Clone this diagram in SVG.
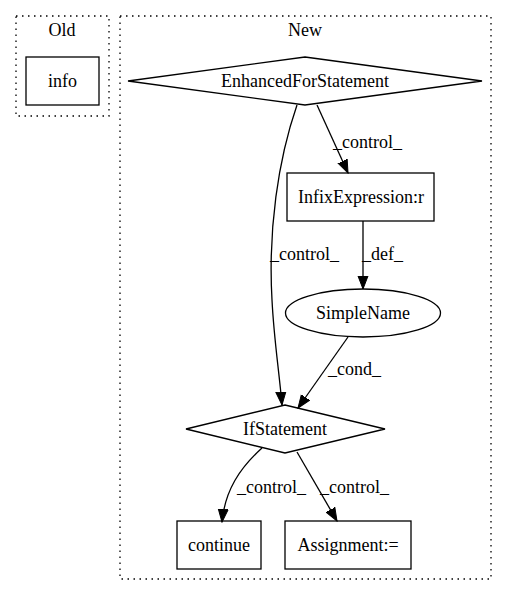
<svg xmlns="http://www.w3.org/2000/svg" width="507" height="596" viewBox="0 0 507 596">
<style>
.t{font-family:'Liberation Serif',serif;font-size:18px;fill:#000}
.n{fill:none;stroke:#000;stroke-width:1.3}
.c{fill:none;stroke:#000;stroke-width:1.3;stroke-dasharray:1.5,4.5}
.e{fill:none;stroke:#000;stroke-width:1.3;marker-end:url(#ah)}
</style>
<defs>
<marker id="ah" markerUnits="userSpaceOnUse" markerWidth="14" markerHeight="12" refX="13" refY="5" orient="auto" viewBox="0 0 14 10">
<path d="M0,0 L13,5 L0,10 Z" fill="#000" stroke="#000" stroke-width="1"/>
</marker>
</defs>
<rect fill="#fff" x="0" y="0" width="507" height="596"/>
<g class="t" font-family="Liberation Serif, serif" font-size="18">
<g id="cluster_old">
<rect class="c" x="16" y="16" width="93" height="100"/>
<text x="62" y="36" text-anchor="middle">Old</text>
</g>
<g id="cluster_new">
<rect class="c" x="120" y="16" width="371" height="563"/>
<text x="305" y="36" text-anchor="middle">New</text>
</g>
<g id="info">
<rect class="n" x="26" y="57" width="73" height="48"/>
<text x="62.5" y="87" text-anchor="middle">info</text>
</g>
<g id="EnhancedForStatement">
<polygon class="n" points="305,57 482,81 305,105 128,81"/>
<text x="305" y="87" text-anchor="middle">EnhancedForStatement</text>
</g>
<g id="InfixExpression">
<rect class="n" x="287" y="173" width="147" height="48"/>
<text x="361" y="203" text-anchor="middle">InfixExpression:r</text>
</g>
<g id="SimpleName">
<ellipse class="n" cx="363" cy="313" rx="77.5" ry="24"/>
<text x="363" y="319" text-anchor="middle">SimpleName</text>
</g>
<g id="IfStatement">
<polygon class="n" points="285,405 385,429 285,453 186,429"/>
<text x="285" y="435" text-anchor="middle">IfStatement</text>
</g>
<g id="continue">
<rect class="n" x="177" y="521" width="84" height="48"/>
<text x="219" y="551" text-anchor="middle">continue</text>
</g>
<g id="Assignment">
<rect class="n" x="285" y="521" width="126" height="48"/>
<text x="348" y="551" text-anchor="middle">Assignment:=</text>
</g>
<g id="edges">
<path class="e" d="M317,105 L348,173"/>
<text x="333" y="148">_control_</text>
<path class="e" d="M297,105 C278,160 268,230 272,300 C274,340 279,370 282,405"/>
<text x="270" y="260">_control_</text>
<path class="e" d="M363,221 L363,289"/>
<text x="362" y="260">_def_</text>
<path class="e" d="M348,337 L298,408"/>
<text x="328" y="375">_cond_</text>
<path class="e" d="M262,448 C240,468 225,490 222,522"/>
<text x="237" y="493">_control_</text>
<path class="e" d="M297,452 L337,521"/>
<text x="320" y="493">_control_</text>
</g>
</g>
</svg>
